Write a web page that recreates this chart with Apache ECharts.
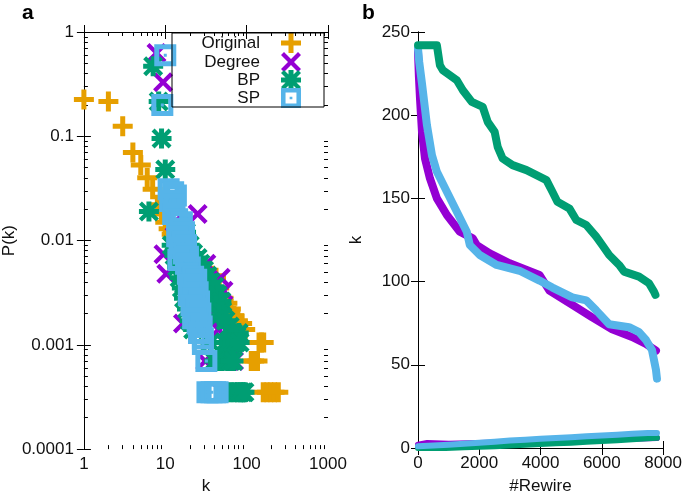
<!DOCTYPE html>
<html><head><meta charset="utf-8">
<script src="https://cdn.jsdelivr.net/npm/echarts@6/dist/echarts.min.js"></script>
<style>html,body{margin:0;padding:0;background:#fff}#c{width:685px;height:500px}</style>
</head><body><div id="c"></div>
<script>
// ---------- Panel a : degree distribution (log-log) ----------
const seriesNames = ['Original', 'Degree', 'BP', 'SP'];
const xTickLabelsA = ['1', '10', '100', '1000'];
const yTickLabelsA = ['0.0001', '0.001', '0.01', '0.1', '1'];
const minorKTicks = [2,3,4,5,6,7,8,9,20,30,40,50,60,70,80,90,200,300,400,500,600,700,800,900];
const minorPTicks = [0.0002,0.0003,0.0004,0.0005,0.0006,0.0007,0.0008,0.0009,0.002,0.003,0.004,0.005,0.006,0.007,0.008,0.009,0.02,0.03,0.04,0.05,0.06,0.07,0.08,0.09,0.2,0.3,0.4,0.5,0.6,0.7,0.8,0.9];

const origK = [1,2,3,4,5,6,7,8,9,10,11,12,13,14,15,16,17,18,20,22,24,27,30,34,38,42,46,52,58,64,70,78,88,96, 142,152,162, 114,124,136, 160,178,198,220,245];
const origP = [0.225,0.215,0.125,0.07,0.053,0.04,0.031,0.022,0.018,0.015,0.013,0.0115,0.0105,0.0095,0.0085,0.0078,0.007,0.0064,0.0058,0.0055,0.005,0.0052,0.0047,0.0045,0.0046,0.0044,0.0035,0.0028,0.0025,0.0022,0.0019,0.0017,0.0016,0.0014, 0.00105,0.00105,0.00105, 0.0007,0.0007,0.0007, 0.00035,0.00035,0.00035,0.00035,0.00035];

const degK = [7.8,9.4,25,9.5,10.3,16.5,48,52,32,31,12,13,15,17,20,23,26,30,35,40,45,55,65,62,70,50,60];
const degP = [0.63,0.33,0.018,0.0074,0.0048,0.0016,0.0044,0.0033,0.006,0.0007,0.025,0.015,0.011,0.008,0.006,0.004,0.003,0.0025,0.002,0.0017,0.0014,0.00105,0.00105,0.0007,0.0007,0.00035,0.00035];

const bpK = [7.1,8.3,9,10,6.3, 12,13,14,15,16,17,18.5,20,22, 18,20,22,25,27,30,28,33,36,40,38,44,49,42,50,46,62,55,80,68,75, 36,54,60,67,74,82, 40,45,50,59,64,69, 55,62,70,78,84,90,94];
const bpP = [0.47,0.215,0.095,0.048,0.019, 0.009,0.0072,0.0056,0.0044,0.0035,0.0028,0.0022,0.0017,0.0014, 0.012,0.009,0.0075,0.0068,0.006,0.0052,0.0045,0.0046,0.004,0.0036,0.003,0.003,0.0026,0.0024,0.0021,0.0019,0.0015,0.0017,0.0013,0.0013,0.0012, 0.00105,0.00105,0.00105,0.00105,0.00105,0.00105, 0.0007,0.0007,0.0007,0.0007,0.0007,0.0007, 0.00035,0.00035,0.00035,0.00035,0.00035,0.00035,0.00035];

const spK = [10,9.2,11,12.5,13.5,11.5,13,12.5,14,16,15,17,14,16.5,18,15,17,19,14.5,18,20,19,22,24,20,23,25,19.5,22,26,21,24,27,22,25,28,26,29,29,32,33,37,41,44];
const spP = [0.6,0.2,0.031,0.029,0.027,0.024,0.022,0.018,0.016,0.015,0.013,0.012,0.011,0.0098,0.009,0.0085,0.0075,0.007,0.0065,0.006,0.0055,0.0048,0.0045,0.0042,0.0038,0.0035,0.0032,0.003,0.0028,0.0026,0.0024,0.0022,0.002,0.0018,0.0016,0.0015,0.0013,0.00115,0.00102,0.0007,0.00035,0.00035,0.00035,0.00035];

// ---------- Panel b : k vs #Rewire ----------
const xTickLabelsB = ['0','2000','4000','6000','8000'];
const yTickLabelsB = ['0','50','100','150','200','250'];

const bpHighX = [0,617,715,812,1268,1463,1755,2112,2275,2502,2600,2762,3087,3542,4192,4387,4550,4940,5167,5492,5817,6012,6240,6565,6727,7215,7540,7702,7750];
const bpHighK = [242,242,230,227,221,215,208,205,196,190,181,174,170,167,161,154,148,144,137,134,127,122,116,110,106,103,99,94,92];

const degHighX = [0,30,65,130,228,390,617,942,1365,1787,1917,2340,2990,3965,4290,5037,5687,6337,6987,7442,7767];
const degHighK = [238,223,210,190,174,162,150,140,130,126,122,117,111,104,94.6,86,78.5,71.4,66.7,62.5,58.5];

const spHighX = [0,40,130,292,455,617,942,1268,1592,1690,2015,2567,3315,3965,4387,5037,5492,5817,6240,6890,7215,7442,7637,7767,7800];
const spHighK = [240,232,219,194,176,166,154,142,130,122,116,110,106.5,100.6,96.4,90.5,88.7,82.7,74.4,72.6,69.6,64.9,58.9,47,41.7];

const degLowX = [0,300,1000,2000,3000,4000,5000,6000,7000,7800];
const degLowK = [2,3,2.5,3,3.5,4,4.5,5,5.5,6];

const bpLowX = [0,900,1500,2000,2500,3000,3500,4000,4500,5000,5500,6000,6500,7000,7500,7800];
const bpLowK = [0,0,0.4,0.8,1.1,1.5,2,2.4,2.8,3.2,3.7,4.2,4.7,5.2,5.8,6.1];

const spLowX = [0,500,1000,1500,2000,2500,3000,3500,4000,4500,5000,5500,6000,6500,7000,7500,7800];
const spLowK = [1,1.5,2,2.5,3.2,3.8,4.5,5,5.5,6,6.5,7,7.5,8,8.5,9,9];

// ---------- styles ----------
const FONT = 'Liberation Sans, Arial, Helvetica, sans-serif';
const colors = {Original:'#E69F00', Degree:'#9400D3', BP:'#009E73', SP:'#56B4E9'};
const PLUS = 'path://M7.5,0 L12.5,0 L12.5,7.5 L20,7.5 L20,12.5 L12.5,12.5 L12.5,20 L7.5,20 L7.5,12.5 L0,12.5 L0,7.5 L7.5,7.5 Z';
const CROSS = 'path://M0,3 L3,0 L10,7 L17,0 L20,3 L13,10 L20,17 L17,20 L10,13 L3,20 L0,17 L7,10 Z';
const STAR = 'path://M7.5,0 L12.5,0 L12.5,7.5 L20,7.5 L20,12.5 L12.5,12.5 L12.5,20 L7.5,20 L7.5,12.5 L0,12.5 L0,7.5 L7.5,7.5 Z M0,3 L3,0 L10,7 L17,0 L20,3 L13,10 L20,17 L17,20 L10,13 L3,20 L0,17 L7,10 Z';
const BOXDOT = 'path://M0,0 L22,0 L22,22 L0,22 Z M5,5 L5,17 L17,17 L17,5 Z M9.5,9.5 L12.5,9.5 L12.5,12.5 L9.5,12.5 Z';

const zip = (a, b) => a.map((v, i) => [v, b[i]]);
const fmtLog = v => String(+Number(v).toPrecision(1));

const tickMajor = {show:true, inside:true, length:7, lineStyle:{color:'#000', width:1}};
const tickMinor = {show:true, inside:true, length:4, lineStyle:{color:'#000', width:1}};
const lineStyleAx = {show:true, lineStyle:{color:'#000', width:1}};
const labelStyle = {color:'#111', fontSize:17, fontFamily:FONT};
const nameStyle = {color:'#111', fontSize:17, fontFamily:FONT};

function logX(pos, extra) {
  return Object.assign({type:'log', logBase:10, min:1, max:1000, gridIndex:0, position:pos,
    splitLine:{show:false}, axisLine:lineStyleAx, axisTick:tickMajor,
    axisLabel:{show:false}}, extra);
}
function logY(pos, extra) {
  return Object.assign({type:'log', logBase:10, min:0.0001, max:1, gridIndex:0, position:pos,
    splitLine:{show:false}, axisLine:lineStyleAx, axisTick:tickMajor,
    axisLabel:{show:false}}, extra);
}
// minor-tick overlays: linear axes spanning the decades (log10 of the range)
function minorX(pos) {
  return {type:'value', gridIndex:0, position:pos, min:Math.log10(1), max:Math.log10(1000),
    splitLine:{show:false}, axisLine:{show:false}, axisLabel:{show:false},
    axisTick:Object.assign({customValues:minorKTicks.map(Math.log10)}, tickMinor)};
}
function minorY(pos) {
  return {type:'value', gridIndex:0, position:pos, min:Math.log10(0.0001), max:Math.log10(1),
    splitLine:{show:false}, axisLine:{show:false}, axisLabel:{show:false},
    axisTick:Object.assign({customValues:minorPTicks.map(Math.log10)}, tickMinor)};
}

const xAxes = [
  logX('bottom', {name:'k', nameLocation:'middle', nameGap:28, nameTextStyle:nameStyle,
    axisLabel:Object.assign({show:true, margin:7, formatter:v => {const s = fmtLog(v); return xTickLabelsA.includes(s) ? s : '';}}, labelStyle)}),
  logX('top', {}),
  minorX('bottom'),
  minorX('top'),
  {type:'value', gridIndex:1, position:'bottom', min:0, max:8000, interval:2000,
    name:'#Rewire', nameLocation:'middle', nameGap:30, nameTextStyle:nameStyle,
    splitLine:{show:false}, axisLine:lineStyleAx, axisTick:tickMajor,
    axisLabel:Object.assign({margin:7, formatter:v => xTickLabelsB[Math.round(v/2000)]}, labelStyle)},
  {type:'value', gridIndex:1, position:'top', min:0, max:8000, interval:2000,
    splitLine:{show:false}, axisLine:lineStyleAx, axisTick:tickMajor, axisLabel:{show:false}}
];
const yAxes = [
  logY('left', {name:'P(k)', nameLocation:'middle', nameGap:64, nameTextStyle:nameStyle,
    axisLabel:Object.assign({show:true, margin:10, formatter:v => {const s = fmtLog(v); return yTickLabelsA.includes(s) ? s : '';}}, labelStyle)}),
  logY('right', {}),
  minorY('left'),
  minorY('right'),
  {type:'value', gridIndex:1, position:'left', min:0, max:250, interval:50,
    name:'k', nameLocation:'middle', nameGap:53, nameTextStyle:nameStyle,
    splitLine:{show:false}, axisLine:lineStyleAx, axisTick:tickMajor,
    axisLabel:Object.assign({margin:8, formatter:v => yTickLabelsB[Math.round(v/50)]}, labelStyle)},
  {type:'value', gridIndex:1, position:'right', min:0, max:250, interval:50,
    splitLine:{show:false}, axisLine:lineStyleAx, axisTick:tickMajor, axisLabel:{show:false}}
];

function scatter(name, k, p, symbol, size) {
  return {type:'scatter', name:name, xAxisIndex:0, yAxisIndex:0, data:zip(k, p),
    symbol:symbol, symbolSize:size, symbolKeepAspect:true,
    itemStyle:{color:colors[name], opacity:1}, emphasis:{disabled:true}, silent:true};
}
function line(name, x, k, color, width) {
  return {type:'line', name:name, xAxisIndex:4, yAxisIndex:4, data:zip(x, k),
    showSymbol:false, symbol:'none', lineStyle:{color:color, width:width, cap:'round', join:'round'},
    emphasis:{disabled:true}, silent:true};
}

const legendIcons = {Original:PLUS, Degree:CROSS, BP:STAR, SP:BOXDOT};
const legendTops = [33, 52, 70, 88];
const legends = seriesNames.map((n, i) => ({
  data:[{name:n, icon:legendIcons[n]}], top:legendTops[i], right:384, orient:'horizontal', align:'right',
  itemWidth:52, itemHeight:20, itemGap:0, padding:0, selectedMode:false,
  textStyle:{fontSize:17, fontFamily:FONT, color:'#111'}
}));

const option = {
  animation:false,
  backgroundColor:'#fff',
  grid:[{left:82, top:32, width:246, height:420}, {left:418, top:32, width:246, height:420}],
  xAxis:xAxes,
  yAxis:yAxes,
  legend:legends,
  graphic:[
    {type:'rect', shape:{x:172, y:33, width:152, height:74}, style:{fill:'none', stroke:'#000', lineWidth:1}, z:100},
    {type:'text', left:22, top:3, style:{text:'a', fontSize:21, fontWeight:'bold', fontFamily:FONT, fill:'#000'}},
    {type:'text', left:362, top:3, style:{text:'b', fontSize:21, fontWeight:'bold', fontFamily:FONT, fill:'#000'}}
  ],
  series:[
    scatter('Original', origK, origP, PLUS, 20),
    scatter('Degree', degK, degP, CROSS, 20),
    scatter('BP', bpK, bpP, STAR, 20),
    scatter('SP', spK, spP, BOXDOT, 22),
    line('Degree k_high', degHighX, degHighK, colors.Degree, 8),
    line('SP k_high', spHighX, spHighK, colors.SP, 8),
    line('BP k_high', bpHighX, bpHighK, colors.BP, 8),
    line('Degree k_low', degLowX, degLowK, colors.Degree, 6),
    line('BP k_low', bpLowX, bpLowK, colors.BP, 6),
    line('SP k_low', spLowX, spLowK, colors.SP, 6)
  ]
};
const chart = echarts.init(document.getElementById('c'), null, {renderer:'canvas'});
chart.setOption(option);
</script></body></html>
